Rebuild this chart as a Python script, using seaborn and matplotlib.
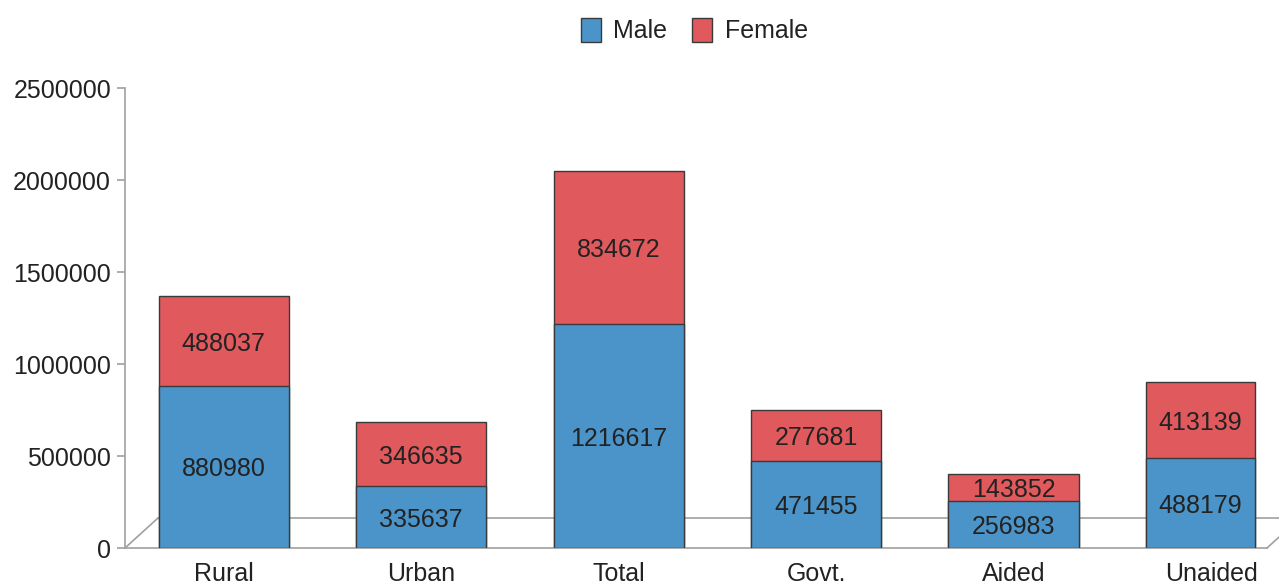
import numpy as np
import pandas as pd
import matplotlib
matplotlib.use("Agg")
import matplotlib.pyplot as plt
import seaborn as sns
from matplotlib.patches import Patch
from matplotlib.lines import Line2D

categories = ["Rural", "Urban", "Total", "Govt.", "Aided", "Unaided"]
male = [880980, 335637, 1216617, 471455, 256983, 488179]
female = [488037, 346635, 834672, 277681, 143852, 413139]

df = pd.DataFrame({"cat": categories, "Male": male, "Female": female})
df["Total"] = df["Male"] + df["Female"]

sns.set_style("white")
plt.rcParams["font.family"] = ["Liberation Sans", "DejaVu Sans"]

blue = "#4a94c9"
red = "#e0595d"
edge = "#3a3a3a"
grey = "#a0a0a0"
txt = "#222222"

fig = plt.figure(figsize=(12.79, 5.86), dpi=100)
ax = fig.add_axes([125 / 1279, 1 - 548 / 586, (1267 - 125) / 1279, (548 - 88) / 586])

# fake 3D floor behind the bars
floor = 30 / 460
dx = 33 / 1142
ax.add_line(Line2D([0, dx], [0, floor], transform=ax.transAxes, color=grey, lw=1.2, zorder=0))
ax.add_line(Line2D([dx, 1.02], [floor, floor], transform=ax.transAxes, color=grey, lw=1.2,
                   zorder=0, clip_on=False))
ax.add_line(Line2D([1.0, 1.0 + dx], [0, floor], transform=ax.transAxes, color=grey, lw=1.2,
                   zorder=0, clip_on=False))

sns.barplot(data=df, x="cat", y="Total", color=red, edgecolor=edge, linewidth=1,
            width=0.66, saturation=1, ax=ax, zorder=2)
sns.barplot(data=df, x="cat", y="Male", color=blue, edgecolor=edge, linewidth=1,
            width=0.66, saturation=1, ax=ax, zorder=3)

# the plot area of the original cuts the last bar short
xmax = 5 + 56 / 198
clip_right = 5 + 44 / 198
for p in ax.patches:
    if p.get_x() + p.get_width() > clip_right:
        p.set_width(clip_right - p.get_x())

for i, (m, f) in enumerate(zip(male, female)):
    left, right = i - 0.33, min(i + 0.33, clip_right)
    xc = (left + right) / 2
    ax.text(xc, m / 2, str(m), ha="center", va="center_baseline", fontsize=18, color=txt, zorder=5)
    ax.text(xc, m + f / 2, str(f), ha="center", va="center_baseline", fontsize=18, color=txt, zorder=5)

ax.set_xticks(np.arange(len(categories)))
ax.set_xticklabels(categories)
ax.set_xticks(list(np.arange(len(categories) - 1) + 0.5) + [xmax], minor=True)
ax.set_xlim(-0.5, xmax)
ax.set_ylim(0, 2500000)
ax.set_yticks([0, 500000, 1000000, 1500000, 2000000, 2500000])
ax.set_yticklabels(["0", "500000", "1000000", "1500000", "2000000", "2500000"])
ax.set_xlabel("")
ax.set_ylabel("")

ax.tick_params(axis="x", which="major", length=0, pad=10, labelsize=18, labelcolor=txt)
ax.tick_params(axis="x", which="minor", length=8, width=1.2, color=grey, direction="out")
ax.tick_params(axis="y", length=6, width=1.2, color=grey, labelsize=18, labelcolor=txt,
               pad=4, left=True)

sns.despine(ax=ax)
for s in ["left", "bottom"]:
    ax.spines[s].set_color(grey)
    ax.spines[s].set_linewidth(1.2)

handles = [Patch(facecolor=blue, edgecolor=edge, label="Male"),
           Patch(facecolor=red, edgecolor=edge, label="Female")]
fig.legend(handles=handles, loc="center", bbox_to_anchor=(0.543, 0.948), ncol=2, frameon=False,
           fontsize=18, handlelength=0.8, handleheight=1.1, handletextpad=0.5, columnspacing=1.0,
           labelcolor=txt)

fig.savefig("out.png", dpi=100)
